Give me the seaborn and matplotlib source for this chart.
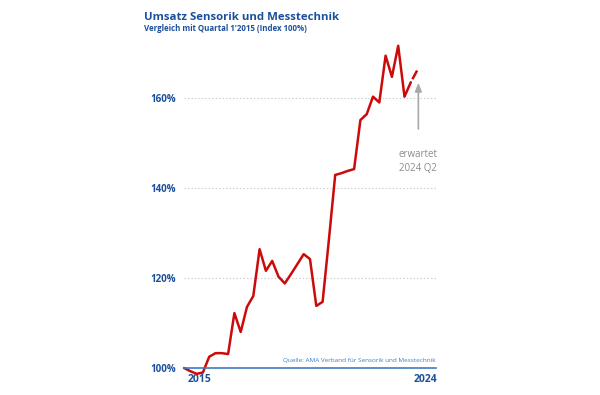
import numpy as np
import pandas as pd
import seaborn as sns
import matplotlib.pyplot as plt

# Umsatzindex je Quartal, 2015 Q1 = 100 %
quartale = [f"{2015 + i // 4} Q{i % 4 + 1}" for i in range(38)]
umsatz = [100.0, 99.3, 98.7, 99.0, 102.5, 103.3, 103.3, 103.1,
          112.2, 108.0, 113.6, 116.0, 126.4, 121.6, 123.8, 120.3,
          118.8, 120.9, 123.1, 125.3, 124.2, 113.8, 114.7, 128.5,
          142.9, 143.3, 143.8, 144.2, 155.1, 156.4, 160.3, 159.0,
          169.4, 164.7, 171.6, 160.3, 163.5, 166.1]
n_ist = 37  # letztes Quartal (2024 Q2) ist erwartet

y_ticks = [100, 120, 140, 160]
y_labels = ['100%', '120%', '140%', '160%']
x_labels = ['2015', '2024']

BLUE = '#1b4f9c'
LBLUE = '#3f7cc4'
RED = '#cc0a0a'
GREY = '#8c8c8c'


def to_x(q):
    jahr, qq = q.split(' Q')
    return int(jahr) + (int(qq) - 1) / 4


df = pd.DataFrame({'quartal': quartale, 'umsatz': umsatz})
df['x'] = df['quartal'].map(to_x)
ist = df.iloc[:n_ist]
prognose = df.iloc[n_ist - 1:]

sns.set_style('white')
plt.rcParams['font.family'] = ['Open Sans', 'DejaVu Sans']
plt.rcParams['lines.scale_dashes'] = False

fig = plt.figure(figsize=(6, 3.95), dpi=100)
ax = fig.add_axes([184 / 600, 27 / 395, 252 / 600, 324 / 395])

sns.lineplot(data=ist, x='x', y='umsatz', ax=ax, color=RED, lw=1.8,
             clip_on=False)
sns.lineplot(data=prognose, x='x', y='umsatz', ax=ax, color=RED, lw=1.8,
             linestyle=(8, (8, 2.5)), clip_on=False)

ax.set_xlim(2015, 2025)
ax.set_ylim(100, 172)

for v in y_ticks[1:]:
    ax.axhline(v, color='#cccccc', lw=0.8, ls=(0, (1, 1.5)), zorder=0)

ax.set_yticks(y_ticks)
ax.set_yticklabels(y_labels)
ax.tick_params(axis='y', length=0, pad=6, labelsize=7, labelcolor=BLUE)
for t in ax.get_yticklabels():
    t.set_fontweight('bold')

ax.set_xticks(np.arange(2015, 2026))
ax.set_xticklabels([])
ax.set_xticks([2015.6, 2024.6], minor=True)
ax.set_xticklabels(x_labels, minor=True)
ax.tick_params(axis='x', which='major', direction='out', length=3,
               width=1, color=LBLUE)
ax.tick_params(axis='x', which='minor', length=0, pad=4, labelsize=7.5,
               labelcolor=BLUE)
for t in ax.get_xticklabels(minor=True):
    t.set_fontweight('bold')

for s in ['top', 'right', 'left']:
    ax.spines[s].set_visible(False)
ax.spines['bottom'].set_color(LBLUE)
ax.spines['bottom'].set_linewidth(1.2)
ax.set_xlabel('')
ax.set_ylabel('')

# Pfeil + Hinweis auf den erwarteten Wert
ax.annotate('', xy=(2024.3, 164.0), xytext=(2024.3, 152.5),
            arrowprops=dict(arrowstyle='-|>,head_length=0.5,head_width=0.2',
                            color='#a8a8a8', lw=1.2))
ax.text(2024.3, 148.6, 'erwartet\n2024 Q2', ha='center', va='top', fontsize=7,
        color=GREY, linespacing=1.35)

ax.text(2025, 101.0, 'Quelle: AMA Verband für Sensorik und Messtechnik',
        ha='right', va='bottom', fontsize=4.6, color=LBLUE)

fig.text(144 / 600, 1 - 19.5 / 395, 'Umsatz Sensorik und Messtechnik',
         fontsize=8.2, fontweight='bold', color=BLUE, va='baseline')
fig.text(144 / 600, 1 - 31 / 395, "Vergleich mit Quartal 1'2015 (Index 100%)",
         fontsize=5.7, fontweight='bold', color=BLUE, va='baseline')

fig.savefig('out.png', dpi=100)
